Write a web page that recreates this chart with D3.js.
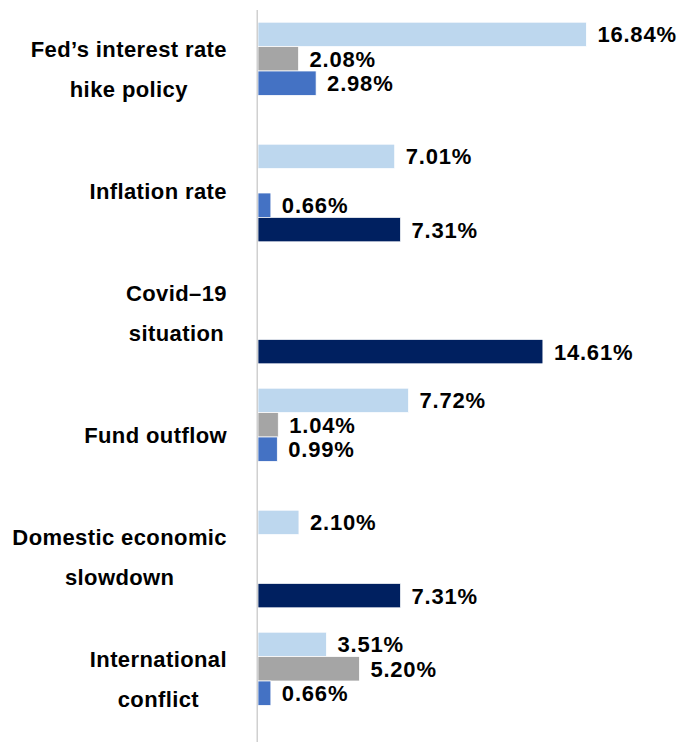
<!DOCTYPE html>
<html lang="en">

<head>
    <meta charset="UTF-8" />
    <title>Grouped Bar Chart</title>
    <script src="https://d3js.org/d3.v7.js"></script>
    <style>
        body { margin: 0; background: #fff; }
        text { font-family: "Liberation Sans", Arial, sans-serif; font-weight: bold; fill: #000; }
    </style>
</head>

<body>
    <svg id="chart"></svg>
</body>

<script>
    // categories (label lines) and the four series, in top-to-bottom slot order
    var categories = [
        ["Fed\u2019s interest rate", "hike policy"],
        ["Inflation rate"],
        ["Covid\u201319", "situation"],
        ["Fund outflow"],
        ["Domestic economic", "slowdown"],
        ["International", "conflict"]
    ];
    var seriesNames = ["Series 1", "Series 2", "Series 3", "Series 4"];
    var seriesColors = ["#BDD7EE", "#A5A5A5", "#4472C4", "#002060"];

    // values in %, null = no bar
    var series1 = [16.84, 7.01, null, 7.72, 2.10, 3.51];
    var series2 = [2.08, null, null, 1.04, null, 5.20];
    var series3 = [2.98, 0.66, null, 0.99, null, 0.66];
    var series4 = [null, 7.31, 14.61, null, 7.31, null];

    var allSeries = [series1, series2, series3, series4];

    var width = 685;
    var height = 742;
    var axisX = 258;
    var labelRight = 227;

    var svg = d3.select("#chart")
        .attr("width", width)
        .attr("height", height);

    var catIdx = d3.range(categories.length);

    var y0 = d3.scaleBand()
        .domain(catIdx)
        .range([10, 742])
        .paddingInner(0.2)
        .paddingOuter(0.1);

    var y1 = d3.scaleBand()
        .domain(d3.range(seriesNames.length))
        .range([0, y0.bandwidth()]);

    var x = d3.scaleLinear()
        .domain([0, 18])
        .range([axisX, axisX + 18 * 19.5]);

    // bars
    var groups = svg.selectAll("g.cat")
        .data(catIdx)
        .enter()
        .append("g")
        .attr("class", "cat")
        .attr("transform", (d) => `translate(0,${y0(d)})`);

    groups.each(function (ci) {
        var g = d3.select(this);
        var vals = allSeries.map((s, si) => ({ si: si, v: s[ci] }))
            .filter((d) => d.v !== null);

        g.selectAll("rect")
            .data(vals)
            .enter()
            .append("rect")
            .attr("x", x(0))
            .attr("y", (d) => y1(d.si))
            .attr("width", (d) => x(d.v) - x(0))
            .attr("height", y1.bandwidth())
            .attr("fill", (d) => seriesColors[d.si])
            .attr("stroke", "#fff")
            .attr("stroke-width", 0.75);

        g.selectAll("text.val")
            .data(vals)
            .enter()
            .append("text")
            .attr("class", "val")
            .attr("x", (d) => x(d.v) + 11)
            .attr("y", (d) => y1(d.si) + y1.bandwidth() / 2)
            .attr("dy", "0.36em")
            .style("font-size", "22px")
            .style("letter-spacing", "0.8px")
            .text((d) => d.v.toFixed(2) + "%");
    });

    // category labels: block right aligned, lines centred within block
    catIdx.forEach(function (ci) {
        var lines = categories[ci];
        var cy = y0(ci) + y0.bandwidth() / 2;
        var lab = svg.append("g");
        var texts = lines.map(function (t, i) {
            return lab.append("text")
                .attr("y", cy + (i - (lines.length - 1) / 2) * 40)
                .attr("dy", "0.27em")
                .attr("text-anchor", "middle")
                .style("font-size", "22px")
                .style("letter-spacing", "0.4px")
                .text(t);
        });
        var maxW = d3.max(texts, (t) => t.node().getComputedTextLength());
        texts.forEach((t) => t.attr("x", labelRight - maxW / 2));
    });

    // vertical axis line
    svg.append("line")
        .attr("x1", axisX - 0.75)
        .attr("x2", axisX - 0.75)
        .attr("y1", y0.range()[0])
        .attr("y2", y0.range()[1])
        .attr("stroke", "#d0d0d0")
        .attr("stroke-width", 1.5);
</script>

</html>
